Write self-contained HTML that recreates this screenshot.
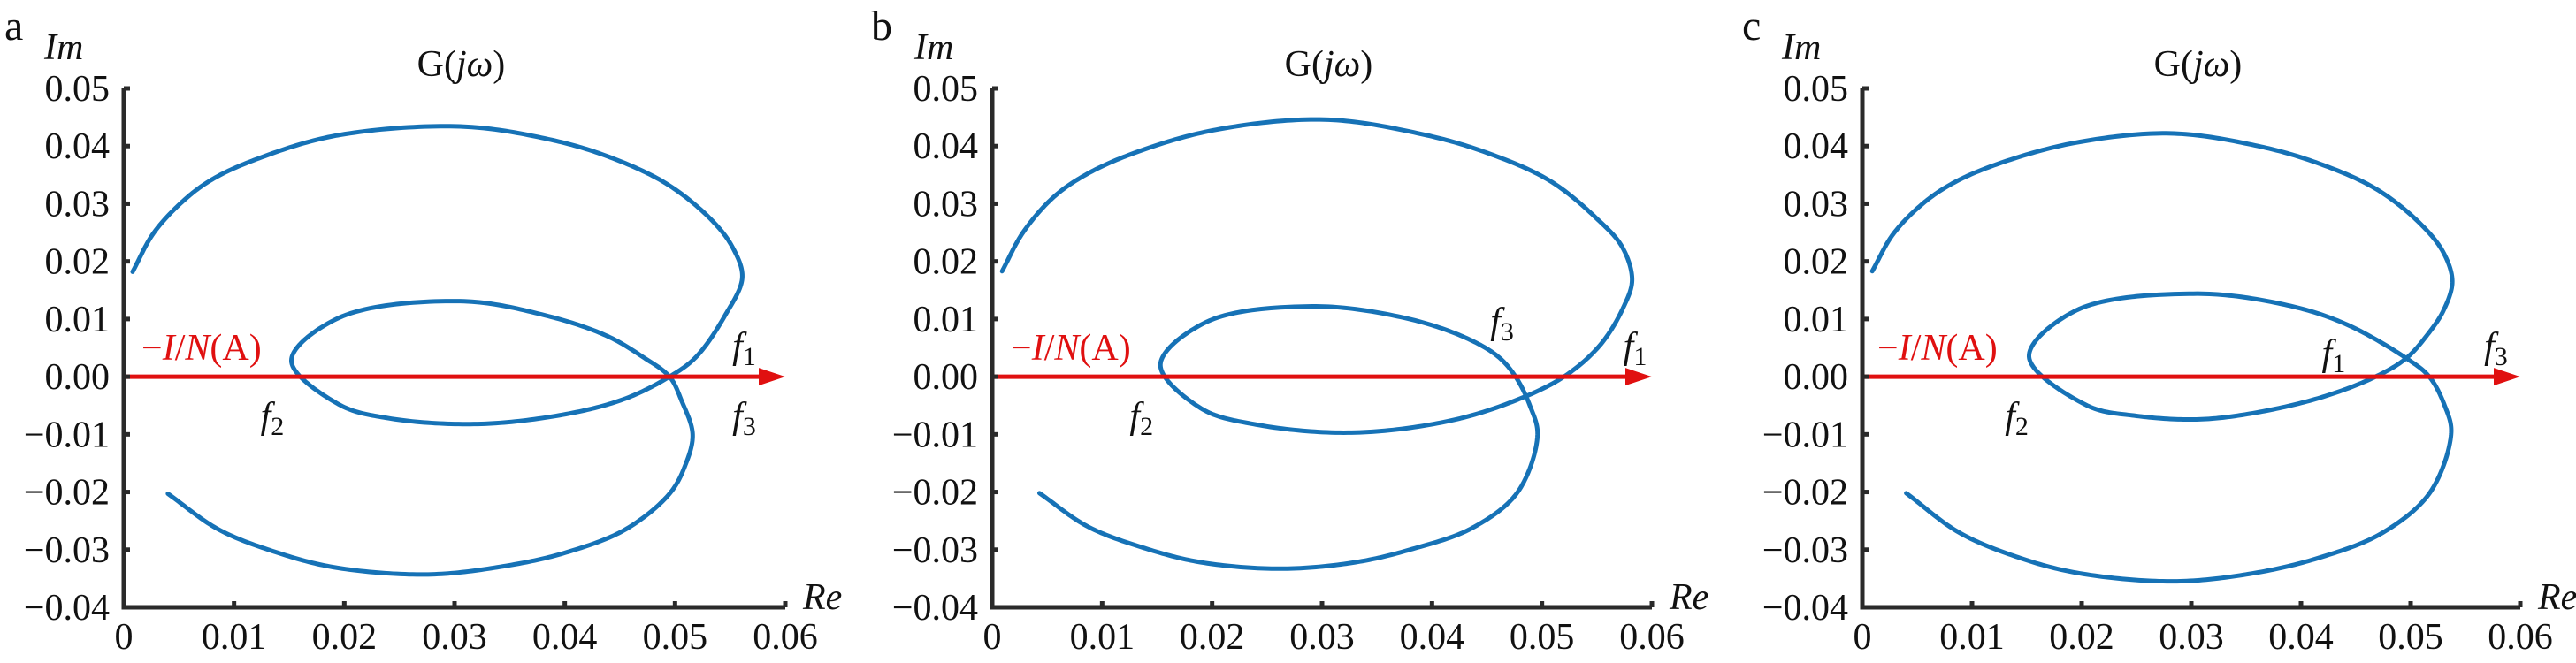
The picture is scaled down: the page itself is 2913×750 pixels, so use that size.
<!DOCTYPE html>
<html><head><meta charset="utf-8"><style>
html,body{margin:0;padding:0;background:#fff;}
svg{display:block;}
svg text{font-family:"Liberation Serif","Times New Roman",serif;}
</style></head><body>
<svg id="fig" width="2913" height="750" viewBox="0 0 2913 750"></svg>
<script>
const xTicks=[0,0.01,0.02,0.03,0.04,0.05,0.06];
const xTickLabels=["0","0.01","0.02","0.03","0.04","0.05","0.06"];
const yTicks=[0.05,0.04,0.03,0.02,0.01,0,-0.01,-0.02,-0.03,-0.04];
const yTickLabels=["0.05","0.04","0.03","0.02","0.01","0.00","\u22120.01","\u22120.02","\u22120.03","\u22120.04"];
const panelLetters=["a","b","c"];
const curveA_re=[0.0008,0.0027,0.0054,0.008,0.012,0.0192,0.0305,0.0385,0.0439,0.0492,0.0532,0.0552,0.0561,0.0545,0.0519,0.0495,0.0455,0.0401,0.0321,0.024,0.0195,0.0152,0.0195,0.0305,0.0385,0.0439,0.0471,0.0495,0.0506,0.0516,0.0509,0.0495,0.0455,0.0401,0.0347,0.0276,0.0192,0.0139,0.0086,0.004];
const curveA_im=[0.0182,0.0249,0.0305,0.0342,0.0377,0.0418,0.0434,0.0412,0.0382,0.0335,0.0274,0.0225,0.0172,0.0105,0.0034,0,-0.0038,-0.0065,-0.0082,-0.0072,-0.0048,0.0028,0.0102,0.0131,0.0105,0.007,0.0034,0,-0.0042,-0.010,-0.0155,-0.0203,-0.0265,-0.0305,-0.0328,-0.0343,-0.0331,-0.0305,-0.0265,-0.0203];
const curveB_re=[0.0009,0.0028,0.0055,0.0083,0.0125,0.020,0.0302,0.039,0.0449,0.0507,0.055,0.0573,0.0582,0.0574,0.0553,0.052,0.0475,0.0415,0.0327,0.024,0.019,0.0153,0.0195,0.0291,0.0375,0.043,0.046,0.0476,0.0489,0.0496,0.0478,0.0437,0.038,0.033,0.0263,0.019,0.0138,0.0087,0.0043];
const curveB_im=[0.0183,0.025,0.031,0.0348,0.0385,0.0427,0.0446,0.0421,0.0389,0.034,0.0274,0.0225,0.0168,0.012,0.0055,0,-0.0042,-0.0077,-0.0097,-0.0083,-0.0055,0.0021,0.0095,0.0122,0.0102,0.0068,0.0035,0,-0.005,-0.0101,-0.020,-0.0262,-0.030,-0.0322,-0.0333,-0.0322,-0.0297,-0.026,-0.0202];
const curveC_re=[0.0009,0.0028,0.0055,0.0082,0.0122,0.0192,0.0281,0.0361,0.0416,0.0469,0.0509,0.053,0.0538,0.053,0.0515,0.0496,0.0468,0.042,0.036,0.0307,0.025,0.0205,0.0152,0.0195,0.0302,0.0385,0.044,0.0496,0.0517,0.0531,0.0537,0.0518,0.0475,0.0415,0.035,0.0281,0.0195,0.014,0.0088,0.004];
const curveC_im=[0.0183,0.0247,0.030,0.0335,0.0368,0.0405,0.0422,0.040,0.037,0.0325,0.0265,0.0215,0.0165,0.0115,0.0072,0.0032,0,-0.0035,-0.0062,-0.0074,-0.0068,-0.005,0.0035,0.0115,0.0144,0.0125,0.0092,0.0032,0,-0.005,-0.0097,-0.020,-0.027,-0.0315,-0.0343,-0.0355,-0.034,-0.0312,-0.027,-0.0202];
const fLabA_re=[0.0124,0.0552,0.0552], fLabA_im=[-0.0089,0.0032,-0.0089], fLabA_n=["2","1","3"];
const fLabB_re=[0.0125,0.0574,0.0453], fLabB_im=[-0.0089,0.0032,0.0075], fLabB_n=["2","1","3"];
const fLabC_re=[0.013,0.0419,0.0567], fLabC_im=[-0.0089,0.002,0.0032], fLabC_n=["2","1","3"];

const NS="http://www.w3.org/2000/svg";
const svg=document.getElementById('fig');
const FF='"Liberation Serif","Times New Roman",serif';
function mk(tag,attrs,parent){const e=document.createElementNS(NS,tag);for(const k in attrs)e.setAttribute(k,attrs[k]);if(tag==='text')e.setAttribute('font-family',FF);(parent||svg).appendChild(e);return e;}
function crPath(P){
 const ext=[[2*P[0][0]-P[1][0],2*P[0][1]-P[1][1]],...P,[2*P[P.length-1][0]-P[P.length-2][0],2*P[P.length-1][1]-P[P.length-2][1]]];
 let d='M'+P[0][0].toFixed(2)+','+P[0][1].toFixed(2);
 const tj=(ti,a,b)=>ti+Math.pow(Math.hypot(b[0]-a[0],b[1]-a[1]),0.5)+1e-6;
 for(let i=1;i<ext.length-2;i++){
  const p0=ext[i-1],p1=ext[i],p2=ext[i+1],p3=ext[i+2];
  const t0=0,t1=tj(t0,p0,p1),t2=tj(t1,p1,p2),t3=tj(t2,p2,p3);
  for(let s=1;s<=24;s++){
   const t=t1+(t2-t1)*s/24;
   const L=(a,b,ta,tb)=>[(tb-t)/(tb-ta)*a[0]+(t-ta)/(tb-ta)*b[0],(tb-t)/(tb-ta)*a[1]+(t-ta)/(tb-ta)*b[1]];
   const A1=L(p0,p1,t0,t1),A2=L(p1,p2,t1,t2),A3=L(p2,p3,t2,t3);
   const B1=L(A1,A2,t0,t2),B2=L(A2,A3,t1,t3);
   const C=L(B1,B2,t1,t2);
   d+=' L'+C[0].toFixed(2)+','+C[1].toFixed(2);
  }
 }
 return d;
}
const panels=[
 {x0:140,x1:888,re:curveA_re,im:curveA_im,fr:fLabA_re,fi:fLabA_im,fn:fLabA_n,letterX:5,imX:50,nX:160},
 {x0:1122,x1:1868,re:curveB_re,im:curveB_im,fr:fLabB_re,fi:fLabB_im,fn:fLabB_n,letterX:985,imX:1034,nX:1143},
 {x0:2106,x1:2850,re:curveC_re,im:curveC_im,fr:fLabC_re,fi:fLabC_im,fn:fLabC_n,letterX:1970,imX:2015,nX:2123}
];
const yTop=100,yBot=687;
panels.forEach((p,pi)=>{
 const g=mk('g',{});
 
 
 const sx=v=>p.x0+(v-0)/(0.06)*(p.x1-p.x0);
 const sy=v=>yBot-(v+0.04)/0.09*(yBot-yTop);
 const lt=mk('text',{x:p.letterX,y:45,'font-size':48,fill:'#111'},g);lt.textContent=panelLetters[pi];
 
 const P=p.re.map((r,i)=>[sx(r),sy(p.im[i])]);
 const cv=mk('path',{d:crPath(P),fill:'none',stroke:'#1672b6','stroke-width':5,'stroke-linecap':'round','stroke-linejoin':'round'},g);
 
 const ay=sy(0);
 const ar=mk('line',{x1:p.x0,y1:ay,x2:sx(0.06)-26,y2:ay,stroke:'#e01010','stroke-width':5},g);
 
 const ah=mk('polygon',{points:`${sx(0.06)-30},${ay-10} ${sx(0.06)},${ay} ${sx(0.06)-30},${ay+10}`,fill:'#e01010'},g);
 
 const ax=mk('path',{d:`M${p.x0},${yTop} L${p.x0},${yBot} L${p.x1},${yBot}`,fill:'none',stroke:'#2a2a2a','stroke-width':5},g);
 
 yTicks.forEach((v,i)=>{
  const y=sy(v);
  const t=mk('line',{x1:p.x0,y1:y,x2:p.x0+7,y2:y,stroke:'#2a2a2a','stroke-width':5},g);
  
  const l=mk('text',{x:p.x0-16,y:y+14,'text-anchor':'end','font-size':42,fill:'#111'},g);l.textContent=yTickLabels[i];
  
 });
 xTicks.forEach((v,i)=>{
  const x=sx(v);
  if(i>0){const t=mk('line',{x1:x,y1:yBot,x2:x,y2:yBot-7,stroke:'#2a2a2a','stroke-width':5},g);
  }
  const l=mk('text',{x:x,y:734,'text-anchor':'middle','font-size':42,fill:'#111'},g);l.textContent=xTickLabels[i];
  
 });
 const im=mk('text',{x:p.imX,y:67,'font-size':42,'font-style':'italic',fill:'#111'},g);im.textContent='Im';
 
 const re=mk('text',{x:p.x1+20,y:689,'font-size':42,'font-style':'italic',fill:'#111'},g);re.textContent='Re';
 
 const gt=mk('text',{x:sx(0.0306),y:86,'text-anchor':'middle','font-size':42,fill:'#111'},g);
 gt.innerHTML='G(<tspan font-style="italic">jω</tspan>)';
 
 const nl=mk('text',{x:p.nX,y:407,'font-size':42,fill:'#e01010'},g);
 nl.innerHTML='−<tspan font-style="italic">I</tspan>/<tspan font-style="italic">N</tspan>(A)';
 
 p.fr.forEach((r,i)=>{
  const f=mk('text',{x:sx(r),y:sy(p.fi[i]),'font-size':42,'font-style':'italic',fill:'#111'},g);
  f.innerHTML='f<tspan font-style="normal" font-size="30" dy="8">'+p.fn[i]+'</tspan>';
  
 });
});
</script>
</body></html>
